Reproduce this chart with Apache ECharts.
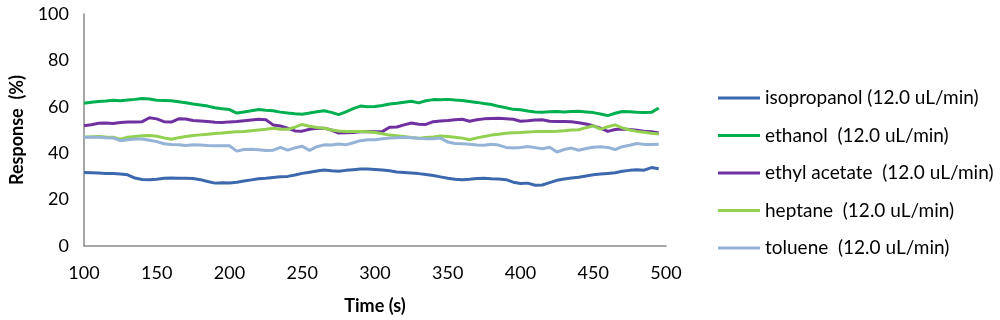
<!DOCTYPE html>
<html>
<head>
<meta charset="utf-8">
<script src="https://cdn.jsdelivr.net/npm/echarts@6/dist/echarts.min.js"></script>
<style>
html,body{margin:0;padding:0;background:#fff;}
#chart{width:1000px;height:320px;}
</style>
</head>
<body>
<div id="chart"></div>
<script>
const times = [
  100,105,110,115,120,125,130,135,140,145,
  150,155,160,165,170,175,180,185,190,195,
  200,205,210,215,220,225,230,235,240,245,
  250,255,260,265,270,275,280,285,290,295,
  300,305,310,315,320,325,330,335,340,345,
  350,355,360,365,370,375,380,385,390,395,
  400,405,410,415,420,425,430,435,440,445,
  450,455,460,465,470,475,480,485,490,495
];
const xTicks = [100,150,200,250,300,350,400,450,500];
const yTicks = [0,20,40,60,80,100];

const seriesNames = [
  'isopropanol (12.0 uL/min)',
  'ethanol  (12.0 uL/min)',
  'ethyl acetate  (12.0 uL/min)',
  'heptane  (12.0 uL/min)',
  'toluene  (12.0 uL/min)'
];

const isopropanol = [
  31.7,31.6,31.5,31.3,31.2,31.0,30.7,29.3,28.7,28.6,
  28.8,29.2,29.3,29.2,29.2,29.1,28.6,27.8,27.1,27.3,
  27.2,27.5,28.0,28.5,29.0,29.2,29.5,29.8,30.0,30.6,
  31.3,31.8,32.3,32.8,32.4,32.2,32.6,32.9,33.2,33.2,
  33.0,32.8,32.4,31.9,31.7,31.5,31.2,30.8,30.4,29.8,
  29.2,28.8,28.6,28.8,29.1,29.2,29.0,28.9,28.6,27.5,
  26.9,27.1,26.2,26.3,27.3,28.3,28.9,29.3,29.6,30.2,
  30.7,31.0,31.3,31.6,32.2,32.6,32.9,32.7,33.8,33.3
];
const ethanol = [
  61.5,62.0,62.3,62.5,62.8,62.6,62.9,63.2,63.6,63.4,
  62.8,62.7,62.6,62.2,61.7,61.2,60.8,60.3,59.6,59.2,
  58.8,57.3,57.8,58.3,58.8,58.5,58.3,57.7,57.3,57.0,
  56.8,57.3,57.9,58.3,57.6,56.6,57.8,59.2,60.3,60.0,
  60.1,60.6,61.2,61.5,62.0,62.4,61.7,62.6,63.1,63.0,
  63.2,62.9,62.7,62.3,61.9,61.4,61.0,60.2,59.6,58.9,
  58.7,58.2,57.8,57.6,57.9,58.0,57.8,58.0,58.1,57.8,
  57.5,56.9,56.2,57.2,58.0,57.9,57.6,57.5,57.6,59.5
];
const ethylAcetate = [
  51.8,52.3,52.9,53.0,52.8,53.2,53.4,53.4,53.6,55.3,
  54.8,53.6,53.4,54.8,54.7,54.1,53.9,53.7,53.3,53.2,
  53.5,53.7,54.0,54.3,54.6,54.4,52.2,51.7,50.8,49.6,
  49.5,50.3,50.7,50.8,50.0,48.7,48.8,48.9,49.2,49.4,
  49.2,49.3,51.2,51.3,52.2,53.0,52.5,52.4,53.6,53.9,
  54.1,54.4,54.6,53.8,54.4,54.8,55.0,55.1,54.9,54.6,
  53.8,54.0,54.3,54.4,53.8,53.7,53.7,53.6,53.1,52.6,
  51.8,50.8,49.4,50.2,50.4,50.2,49.9,49.5,49.2,48.7
];
const heptane = [
  46.9,47.1,47.2,47.0,46.9,46.0,46.9,47.2,47.5,47.6,
  47.3,46.6,46.0,46.7,47.2,47.6,47.9,48.2,48.5,48.7,
  49.0,49.2,49.4,49.7,50.0,50.3,50.8,50.3,50.3,51.2,
  52.4,51.6,51.1,50.8,50.0,49.6,49.4,49.4,49.4,49.2,
  48.9,48.4,47.8,47.5,47.2,46.8,46.5,46.8,47.0,47.4,
  47.2,46.9,46.5,45.8,46.6,47.2,47.8,48.2,48.6,48.8,
  48.9,49.1,49.3,49.4,49.4,49.5,49.7,50.0,50.1,51.0,
  51.8,50.4,51.4,52.2,50.9,50.0,49.4,49.0,48.6,48.3
];
const toluene = [
  46.9,46.9,46.9,46.7,46.6,45.4,45.8,46.1,46.1,45.6,
  45.0,44.1,43.8,43.6,43.3,43.6,43.5,43.3,43.2,43.2,
  43.2,40.9,41.6,41.7,41.5,41.2,41.3,42.5,41.3,42.3,
  43.0,41.2,42.8,43.6,43.5,44.0,43.6,44.5,45.4,45.8,
  45.8,46.2,46.5,46.7,46.9,46.7,46.4,46.2,46.2,46.5,
  44.8,44.2,44.1,43.9,43.5,43.4,43.9,43.5,42.5,42.2,
  42.5,42.9,42.4,41.9,42.6,40.5,41.6,42.2,41.3,42.0,
  42.6,42.8,42.5,41.6,42.8,43.4,44.2,43.8,43.8,43.9
];

const allValues = [isopropanol, ethanol, ethylAcetate, heptane, toluene];
const colors = ['#3C69AD', '#00B050', '#7030A0', '#92D050', '#95B3D7'];

const FONT = 'Lato, "Liberation Sans", sans-serif';

const chart = echarts.init(document.getElementById('chart'), null, {renderer: 'canvas'});

const series = seriesNames.map((name, i) => ({
  name: name,
  type: 'line',
  data: times.map((t, j) => [t, allValues[i][j]]),
  symbol: 'none',
  showSymbol: false,
  smooth: false,
  lineStyle: {width: 3, color: colors[i]},
  itemStyle: {color: colors[i]},
  animation: false
}));

chart.setOption({
  animation: false,
  backgroundColor: '#ffffff',
  textStyle: {fontFamily: FONT},
  grid: {left: 83, right: 334, top: 14, bottom: 73.5, containLabel: false},
  legend: {
    orient: 'vertical',
    left: 713,
    top: 83,
    itemWidth: 42,
    itemHeight: 14,
    itemGap: 17.5,
    data: seriesNames.map((n, i) => ({name: n, icon: 'path://M0,6 L42,6 L42,9 L0,9 Z'})),
    textStyle: {fontFamily: FONT, fontSize: 19, color: '#000', lineHeight: 20, padding: [0,0,0,0]},
    selectedMode: false
  },
  xAxis: {
    type: 'value',
    min: xTicks[0],
    max: xTicks[xTicks.length - 1],
    interval: xTicks[1] - xTicks[0],
    name: 'Time (s)',
    nameLocation: 'middle',
    nameGap: 51,
    nameTextStyle: {fontFamily: FONT, fontSize: 18, fontWeight: 'bold', color: '#000'},
    axisLine: {show: true, onZero: false, lineStyle: {color: '#8a8a8a', width: 1.5}},
    axisTick: {show: false},
    splitLine: {show: false},
    axisLabel: {fontFamily: FONT, fontSize: 18, color: '#000', margin: 18}
  },
  yAxis: {
    type: 'value',
    min: yTicks[0],
    max: yTicks[yTicks.length - 1],
    interval: yTicks[1] - yTicks[0],
    name: 'Response  (%)',
    nameLocation: 'middle',
    nameGap: 58,
    nameTextStyle: {fontFamily: FONT, fontSize: 18, fontWeight: 'bold', color: '#000'},
    axisLine: {show: true, lineStyle: {color: '#8a8a8a', width: 1.5}},
    axisTick: {show: false},
    splitLine: {show: false},
    axisLabel: {fontFamily: FONT, fontSize: 18, color: '#000', margin: 15}
  },
  series: series
});
</script>
</body>
</html>
